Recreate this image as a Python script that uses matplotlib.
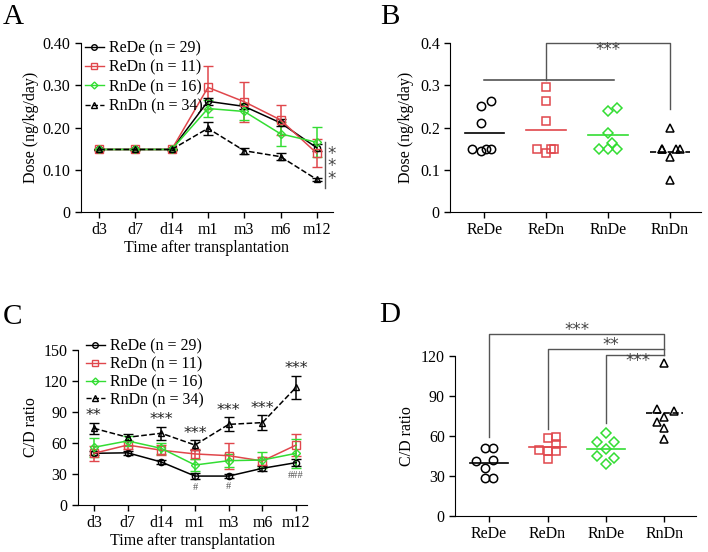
import matplotlib
matplotlib.use('Agg')
import matplotlib.pyplot as plt
from matplotlib.lines import Line2D
import numpy as np

plt.rcParams['font.family'] = ['Liberation Serif', 'DejaVu Serif']
plt.rcParams['font.size'] = 11.5

# ---- data ----
groups = ['ReDe', 'ReDn', 'RnDe', 'RnDn']
group_n = [29, 11, 16, 34]
timepoints = ['d3', 'd7', 'd14', 'm1', 'm3', 'm6', 'm12']

# A: dose (ng/kg/day), mean and error over time
dose_rede = [0.148, 0.148, 0.148, 0.262, 0.250, 0.211, 0.152]
dose_redn = [0.148, 0.148, 0.148, 0.295, 0.261, 0.218, 0.139]
dose_rnde = [0.148, 0.148, 0.148, 0.245, 0.238, 0.185, 0.165]
dose_rndn = [0.148, 0.148, 0.148, 0.198, 0.145, 0.131, 0.077]
dose_rede_err = [0.002, 0.002, 0.002, 0.008, 0.006, 0.008, 0.008]
dose_redn_err = [0.002, 0.002, 0.002, 0.050, 0.047, 0.035, 0.033]
dose_rnde_err = [0.002, 0.002, 0.002, 0.020, 0.020, 0.028, 0.036]
dose_rndn_err = [0.002, 0.002, 0.002, 0.016, 0.007, 0.009, 0.004]

# B: individual dose values per group
dose_pts_rede = [0.263, 0.251, 0.211, 0.148, 0.144, 0.148, 0.148]
dose_pts_redn = [0.297, 0.263, 0.216, 0.148, 0.139, 0.148, 0.148]
dose_pts_rnde = [0.246, 0.238, 0.186, 0.164, 0.148, 0.148, 0.148]
dose_pts_rndn = [0.200, 0.148, 0.148, 0.131, 0.148, 0.148, 0.076]

# C: C/D ratio over time
cd_rede = [50, 50.5, 41.6, 28, 28, 35.5, 41]
cd_redn = [50, 58, 53, 49.4, 47.7, 42.6, 58]
cd_rnde = [55.8, 62, 54.8, 38.7, 42.9, 43.5, 50]
cd_rndn = [74.2, 65.5, 69.4, 58, 78, 79.7, 113.9]
cd_rede_err = [2, 2, 1.5, 3, 1.8, 2.5, 3.5]
cd_redn_err = [7.5, 4, 5, 5, 12.6, 3.5, 10.7]
cd_rnde_err = [9.3, 5, 5, 6, 6, 7.5, 14]
cd_rndn_err = [5.5, 3.5, 6.5, 4.5, 6.7, 7, 10.9]
cd_stars = ['**', '', '***', '***', '***', '***', '***']
cd_hash = ['', '', '', '#', '#', '', '###']

# D: individual C/D values per group
cd_pts_rede = [50.7, 50.7, 41.2, 42, 36.3, 28.8, 28.8]
cd_pts_redn = [58.2, 59.5, 49.5, 49, 53.7, 49, 42.5]
cd_pts_rnde = [62, 55.7, 55.7, 50.2, 45, 43.2, 39]
cd_pts_rndn = [114.5, 80.2, 79, 74.5, 70.3, 65.7, 57.7]

# ---- styles ----
RED = '#e0474c'
GREEN = '#33dd33'
colors = ['black', RED, GREEN, 'black']
markers = ['o', 's', 'D', '^']
msizes = [4.5, 5.5, 4, 4.5]
lstyles = ['-', '-', '-', '--']
jit_b = [[0.11, -0.05, -0.05, -0.2, -0.05, 0.02, 0.1],
         [0, 0, 0, -0.15, 0, 0.07, 0.13],
         [0.14, 0, 0, 0.07, -0.14, 0, 0.14],
         [0, -0.13, -0.13, 0, 0.1, 0.17, 0]]
jit_d = [[-0.07, 0.07, -0.22, 0.07, -0.07, -0.07, 0.07],
         [0, 0.14, -0.15, 0, 0.14, 0.14, 0],
         [0, -0.15, 0.14, 0, -0.15, 0.14, 0],
         [0, -0.13, 0.16, 0, -0.13, 0, 0]]
BR = '#555555'


def style_axes(ax):
    for s in ['top', 'right']:
        ax.spines[s].set_visible(False)
    ax.tick_params(direction='out', length=4, width=1)


def line_panel(ax, means, errs):
    x = np.arange(len(timepoints))
    for m, e, c, mk, ms, ls in zip(means, errs, colors, markers, msizes, lstyles):
        ax.errorbar(x, m, yerr=e, color=c, marker=mk, ms=ms, mfc='none', mew=1,
                    ls=ls, lw=1.1, capsize=3.5, elinewidth=1.1, capthick=1.1)
    ax.set_xticks(x)
    ax.set_xticklabels(timepoints)
    ax.set_xlabel('Time after transplantation', labelpad=1)
    handles = [Line2D([], [], color=c, marker=mk, ms=ms - 0.5, mfc='none', ls=ls, lw=1)
               for c, mk, ms, ls in zip(colors, markers, msizes, lstyles)]
    labels = ['%s (n = %d)' % (g, n) for g, n in zip(groups, group_n)]
    return handles, labels


def dot_panel(ax, pts, jit):
    for i, (p, j) in enumerate(zip(pts, jit)):
        xs = [i + v for v in j]
        ax.plot(xs, p, ls='none', marker=markers[i], ms=6 if i != 2 else 5,
                mfc='none', mec=colors[i], mew=1.1)
        ax.plot([i - 0.32, i + 0.32], [np.mean(p)] * 2, color=colors[i],
                ls=lstyles[i], lw=1.2)
    ax.set_xticks(range(len(groups)))
    ax.set_xticklabels(groups)
    ax.set_xlim(-0.55, 3.5)


fig = plt.figure(figsize=(7.08, 5.52), dpi=100)

# ---- A ----
axA = fig.add_axes([0.1144, 0.616, 0.3556, 0.306])
style_axes(axA)
hA, lA = line_panel(axA, [dose_rede, dose_redn, dose_rnde, dose_rndn],
                    [dose_rede_err, dose_redn_err, dose_rnde_err, dose_rndn_err])
axA.set_xlim(-0.5, 6.44)
axA.set_ylim(0, 0.4)
axA.set_yticks([0, 0.1, 0.2, 0.3, 0.4])
axA.set_yticklabels(['0', '0.10', '0.20', '0.30', '0.40'])
axA.set_ylabel('Dose (ng/kg/day)', labelpad=3)
axA.legend(hA, lA, loc='upper left', bbox_to_anchor=(0.015, 1.015), frameon=False,
           handlelength=1.2, handletextpad=0.3, labelspacing=0.2, borderpad=0,
           borderaxespad=0)
axA.plot([6.22, 6.22], [0.057, 0.166], color=BR, lw=1, clip_on=False)
axA.text(6.42, 0.108, '*\n*\n*', ha='center', va='center', linespacing=0.62,
         family='DejaVu Sans', fontsize=12, color='#444444')

# ---- B ----
axB = fig.add_axes([0.636, 0.616, 0.354, 0.306])
style_axes(axB)
dot_panel(axB, [dose_pts_rede, dose_pts_redn, dose_pts_rnde, dose_pts_rndn], jit_b)
axB.set_ylim(0, 0.4)
axB.set_yticks([0, 0.1, 0.2, 0.3, 0.4])
axB.set_yticklabels(['0', '0.1', '0.2', '0.3', '0.4'])
axB.set_ylabel('Dose (ng/kg/day)', labelpad=4)
axB.plot([0, 2.1], [0.312, 0.312], color='#444444', lw=1.1)
axB.plot([1, 1, 3, 3], [0.312, 0.4, 0.4, 0.245], color='#555555', lw=1, clip_on=False)
axB.text(2.0, 0.383, '***', ha='center', va='center', family='DejaVu Sans',
         fontsize=12, color='#444444')

# ---- C ----
axC = fig.add_axes([0.110, 0.0851, 0.324, 0.281])
style_axes(axC)
hC, lC = line_panel(axC, [cd_rede, cd_redn, cd_rnde, cd_rndn],
                    [cd_rede_err, cd_redn_err, cd_rnde_err, cd_rndn_err])
axC.set_xlim(-0.475, 6.33)
axC.set_ylim(0, 150)
axC.set_yticks(range(0, 151, 30))
axC.set_ylabel('C/D ratio', labelpad=3)
axC.legend(hC, lC, loc='upper left', bbox_to_anchor=(0.035, 1.075), frameon=False,
           handlelength=1.2, handletextpad=0.3, labelspacing=0.12, borderpad=0,
           borderaxespad=0)
for i, s in enumerate(cd_stars):
    if s:
        axC.text(i, cd_rndn[i] + cd_rndn_err[i] + 7, s, ha='center', va='center',
                 family='DejaVu Sans', fontsize=11.5, color='#222222')
for i, s in enumerate(cd_hash):
    if s:
        axC.text(i, cd_rede[i] - cd_rede_err[i] - 8.5, s, ha='center', va='center',
                 fontsize=7.5, color='#555555')

# ---- D ----
axD = fig.add_axes([0.643, 0.0652, 0.340, 0.290])
style_axes(axD)
dot_panel(axD, [cd_pts_rede, cd_pts_redn, cd_pts_rnde, cd_pts_rndn], jit_d)
axD.set_xlim(-0.58, 3.54)
axD.set_ylim(0, 120)
axD.set_yticks(range(0, 121, 30))
axD.set_ylabel('C/D ratio', labelpad=4)
axD.plot([0, 0, 3, 3], [59.5, 136.5, 136.5, 120.7], color=BR, lw=1, clip_on=False)
axD.plot([1, 1, 3], [65, 125, 125], color=BR, lw=1, clip_on=False)
axD.plot([2, 2, 3], [69.5, 120.7, 120.7], color=BR, lw=1, clip_on=False)
axD.text(1.5, 139.5, '***', ha='center', va='center', family='DejaVu Sans',
         fontsize=12, color='#444444', clip_on=False)
axD.text(2.08, 128.5, '**', ha='center', va='center', family='DejaVu Sans',
         fontsize=12, color='#444444', clip_on=False)
axD.text(2.54, 116, '***', ha='center', va='center', family='DejaVu Sans',
         fontsize=12, color='#444444', clip_on=False)

# panel letters
for lab, x, y in [('A', 0.004, 0.993), ('B', 0.537, 0.993), ('C', 0.004, 0.45), ('D', 0.535, 0.452)]:
    fig.text(x, y, lab, fontsize=21, ha='left', va='top')

fig.savefig('out.png', dpi=100)
